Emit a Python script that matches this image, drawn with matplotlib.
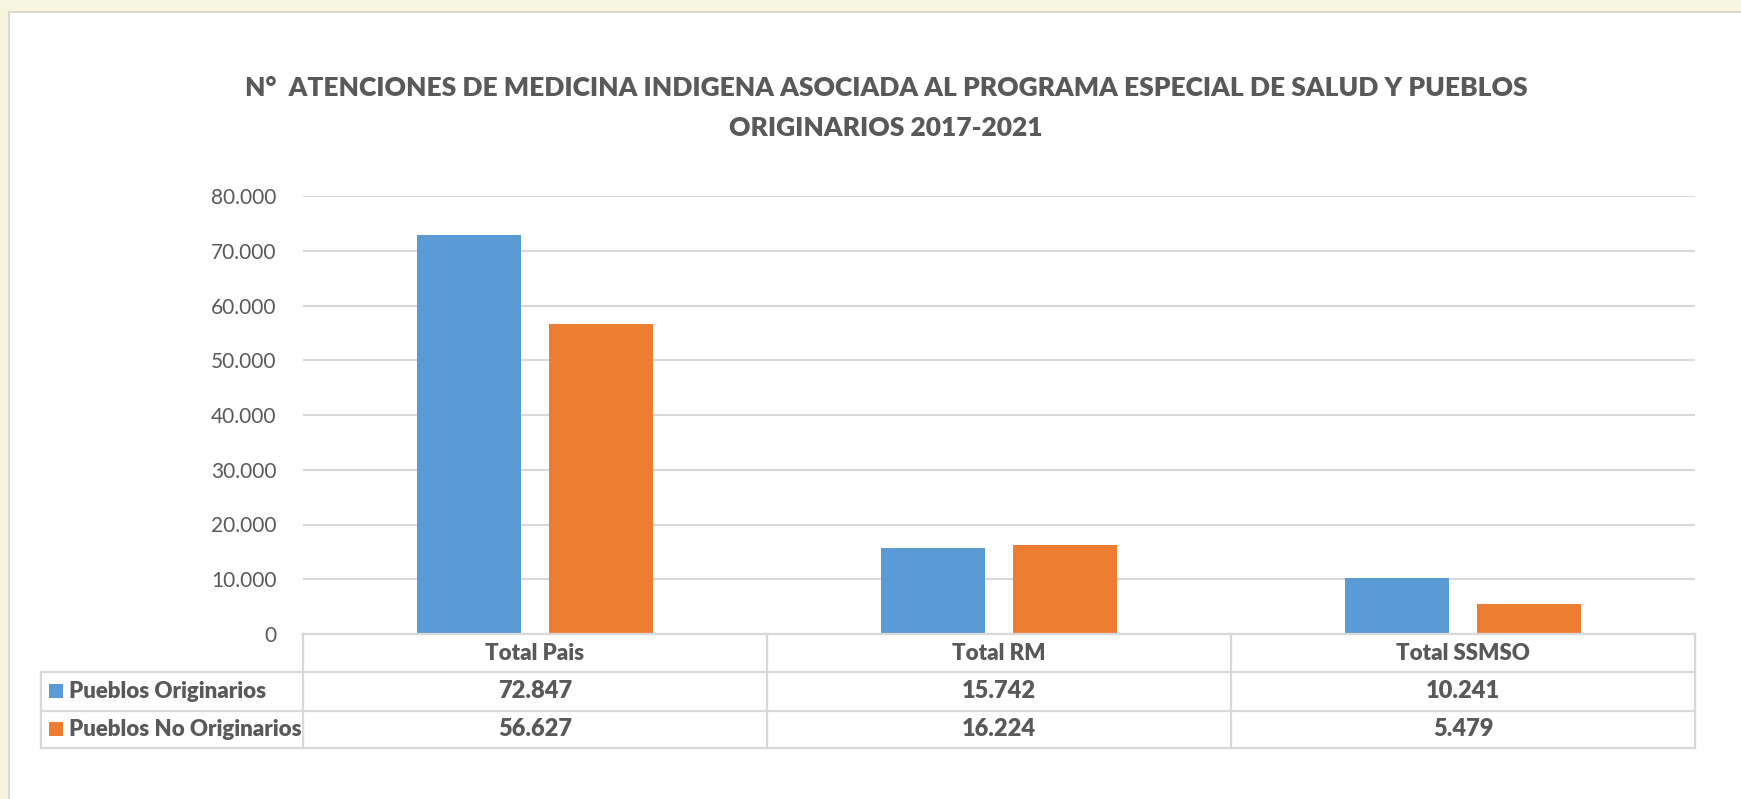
import matplotlib
matplotlib.use("Agg")
import matplotlib.pyplot as plt
from matplotlib.patches import Rectangle
import numpy as np

categories = ["Total Pais", "Total RM", "Total SSMSO"]
series_names = ["Pueblos Originarios", "Pueblos No Originarios"]
pueblos_originarios = [72847, 15742, 10241]
pueblos_no_originarios = [56627, 16224, 5479]
y_ticks = [0, 10000, 20000, 30000, 40000, 50000, 60000, 70000, 80000]
title = "N°  ATENCIONES DE MEDICINA INDIGENA ASOCIADA AL PROGRAMA ESPECIAL DE SALUD Y PUEBLOS\nORIGINARIOS 2017-2021"

colors = ["#5B9BD5", "#ED7D31"]
txt = "#595959"
grid_c = "#D9D9D9"
FONT = ["Lato", "DejaVu Sans"]
BOLD = "heavy"

def fmt(v):
    return f"{int(v):,}".replace(",", ".")

W, H = 1741, 799
fig = plt.figure(figsize=(W / 100, H / 100), dpi=100)
fig.patch.set_facecolor("#F6F6DE")
# white panel (background axes)
bg = fig.add_axes([0, 0, 1, 1], zorder=-10)
bg.set_xlim(0, W)
bg.set_ylim(H, 0)
bg.axis("off")
bg.add_patch(Rectangle((9, 12), W + 20, H + 20, facecolor="white", edgecolor="#DADAD0", linewidth=1.5))

ax_l, ax_r, ax_t, ax_b = 303, 1695, 196, 634
ax = fig.add_axes([ax_l / W, (H - ax_b) / H, (ax_r - ax_l) / W, (ax_b - ax_t) / H])
ax.set_facecolor("none")

x = np.arange(len(categories))
bw = 0.224
off = 0.142
ax.bar(x - off, pueblos_originarios, bw, color=colors[0], zorder=3)
ax.bar(x + off, pueblos_no_originarios, bw, color=colors[1], zorder=3)

ax.set_xlim(-0.5, len(categories) - 0.5)
ax.set_ylim(0, 80000)
ax.set_yticks(y_ticks)
ax.set_yticklabels([fmt(v) for v in y_ticks], fontsize=15, color=txt, family=FONT)
ax.tick_params(axis="y", length=0, pad=19)
ax.set_xticks([])
for s in ax.spines.values():
    s.set_visible(False)
ax.grid(axis="y", color=grid_c, linewidth=1.5, zorder=0)
ax.set_axisbelow(True)

# table
ah = ax_b - ax_t
rows_px = [0, 38, 76.5, 114.3]
rows = [-r / ah for r in rows_px]
leg_left = (41 - ax_l) / (ax_r - ax_l)
lw = 1.6
xt = ax.get_xaxis_transform()
ax.plot([0, 1], [rows[0]] * 2, transform=ax.transAxes, color=grid_c, lw=lw, clip_on=False, zorder=4)
for r in rows[1:]:
    ax.plot([leg_left, 1], [r, r], transform=ax.transAxes, color=grid_c, lw=lw, clip_on=False)
bounds = np.arange(len(categories) + 1) - 0.5
for b in bounds:
    ax.plot([b, b], [rows[0], rows[3]], transform=xt, color=grid_c, lw=lw, clip_on=False)
ax.plot([leg_left, leg_left], [rows[1], rows[3]], transform=ax.transAxes, color=grid_c, lw=lw, clip_on=False)

for i, c in enumerate(categories):
    ax.text(i, (rows[0] + rows[1]) / 2, c, transform=xt, ha="center", va="center",
            fontsize=16, fontweight=BOLD, color=txt, family=FONT)
for j, (name, vals) in enumerate(zip(series_names, [pueblos_originarios, pueblos_no_originarios])):
    yc = (rows[j + 1] + rows[j + 2]) / 2
    for i, v in enumerate(vals):
        ax.text(i, yc, fmt(v), transform=xt, ha="center", va="center",
                fontsize=17, fontweight=BOLD, color=txt, family=FONT)
    sq = 14 / (ax_r - ax_l)
    sqh = 14 / ah
    ax.add_patch(Rectangle(((49 - ax_l) / (ax_r - ax_l), yc - sqh / 2), sq, sqh, transform=ax.transAxes,
                           facecolor=colors[j], edgecolor="none", clip_on=False))
    ax.text((69 - ax_l) / (ax_r - ax_l), yc, name, transform=ax.transAxes, ha="left", va="center",
            fontsize=16, fontweight=BOLD, color=txt, family=FONT)

fig.text(886 / W, 1 - 108 / H, title, ha="center", va="center", fontsize=19, fontweight=BOLD,
         color=txt, family=FONT, linespacing=1.75)

fig.savefig("out.png", dpi=100, facecolor=fig.get_facecolor())
